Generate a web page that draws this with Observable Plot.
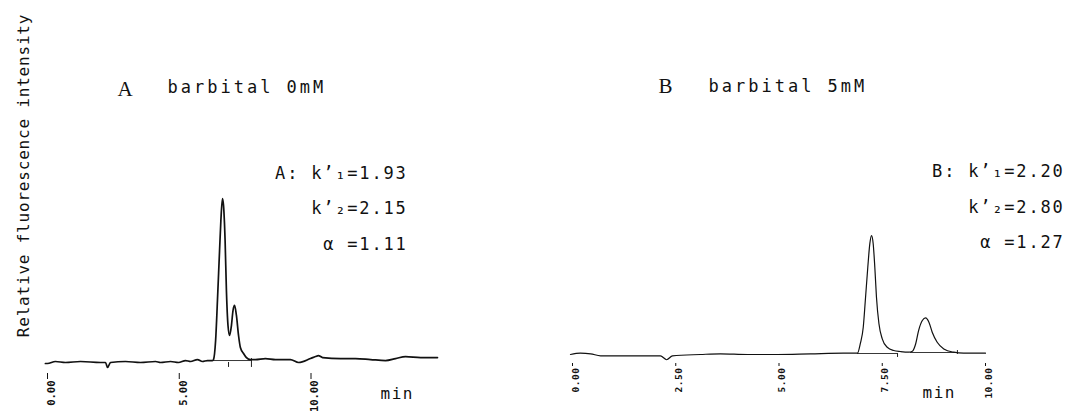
<!DOCTYPE html>
<html>
<head>
<meta charset="utf-8">
<script src="https://cdn.jsdelivr.net/npm/d3@7"></script>
<script src="https://cdn.jsdelivr.net/npm/@observablehq/plot@0.6"></script>
<style>
  html, body { margin: 0; padding: 0; background: #fff; }
  #wrap { position: relative; width: 1067px; height: 411px; overflow: hidden; background: #fff; }
  #wrap svg { position: absolute; top: 0; }
</style>
</head>
<body>
<div id="wrap"></div>
<script>
// ---------- data ----------
// Panel A (barbital 0 mM): time in min, relative fluorescence (apex of first peak = 100)
const timeA = [-0.08, 0, 0.30, 0.68, 1.25, 2.01, 2.20, 2.28, 2.39, 2.96, 3.53, 4.10, 4.29, 4.67, 4.97,
  5.24, 5.43, 5.69, 5.88, 6.07, 6.26, 6.30, 6.38, 6.45, 6.53, 6.58, 6.64, 6.68, 6.74, 6.79, 6.85,
  6.91, 6.98, 7.04, 7.10, 7.17, 7.25, 7.32, 7.44, 7.55, 7.70, 7.89, 8.27, 8.65, 9.22, 9.53, 9.98,
  10.17, 10.28, 10.44, 11.12, 11.69, 12.26, 12.83, 13.21, 13.59, 14.16, 14.80];
const signalA = [0, 0, 1.2, 0.6, 1.2, 0.6, 0.6, -2.4, 0.6, 1.2, 0.6, 1.2, 0.6, 1.2, 0.6,
  1.8, 1.2, 2.4, 1.2, 1.8, 1.8, 2.4, 13.9, 38.2, 68.5, 86.7, 100, 95.8, 74.5, 44.2, 23.0,
  17.0, 23.0, 32.1, 35.2, 29.1, 17.0, 9.7, 6.1, 3.6, 2.4, 2.4, 3.0, 2.4, 2.4, 0.6, 3.0,
  4.2, 4.8, 3.6, 3.0, 3.0, 2.4, 1.8, 3.0, 4.2, 3.6, 3.6];
// Panel B (barbital 5 mM)
const timeB = [-0.05, 0.19, 0.44, 0.68, 1.33, 2.13, 2.28, 2.42, 3.10, 3.58, 4.24, 4.96, 5.76, 6.56,
  6.90, 6.97, 7.04, 7.09, 7.15, 7.20, 7.24, 7.28, 7.32, 7.36, 7.42, 7.50, 7.62, 7.78, 7.94, 8.14,
  8.23, 8.31, 8.38, 8.47, 8.55, 8.63, 8.71, 8.83, 8.99, 9.23, 9.47, 10.00];
const signalB = [-0.6, 0.2, -0.2, -1.4, -1.4, -1.4, -3.8, -1.4, -0.6, -0.2, -0.6, -0.6, -0.2, 0.2,
  0.2, 6.1, 15.9, 32.1, 52.3, 66.7, 71.5, 66.7, 52.3, 34.1, 18.0, 8.9, 3.8, 1.8, 1.2, 0.8,
  1.4, 5.9, 13.9, 20.0, 21.6, 19.0, 12.9, 6.8, 2.8, 0.8, 0.2, 0.2];

// integrator baselines and peak-end marks
const integStartA = [6.30], integEndA = [7.74], integLevelA = [1.8];
const markTimeA = [6.87, 7.74], markTopA = [0.6, 3.0], markBottomA = [-2.4, -2.4];
const integStartB = [6.90, 8.18], integEndB = [7.87, 9.32], integLevelB = [0, 0.6];
const markTimeB = [7.87, 9.32], markTopB = [0, 1.8], markBottomB = [-2.4, -0.6];

// ticks and texts
const ticksA = [0, 5, 10];
const ticksB = [0, 2.5, 5, 7.5, 10];
const panelLetters = ["A", "B"];
const panelTitles = ["barbital 0mM", "barbital 5mM"];
const statsA = ["A: k\u2019\u2081=1.93", "k\u2019\u2082=2.15", "\u03b1 =1.11"];
const statsB = ["B: k\u2019\u2081=2.20", "k\u2019\u2082=2.80", "\u03b1 =1.27"];
const unitLabel = "min";
const yLabel = "Relative fluorescence intensity";

// ---------- build ----------
const mono = "'DejaVu Sans Mono', monospace";
const serif = "'Liberation Serif', 'DejaVu Serif', serif";
const fmt = d3.format(".2f");

function panel(cfg) {
  const trace = cfg.time.map((t, i) => ({t, v: cfg.signal[i]}));
  const integ = cfg.integStart.map((s, i) => ({x1: s, x2: cfg.integEnd[i], y: cfg.integLevel[i]}));
  const marks = cfg.markTime.map((t, i) => ({x: t, y1: cfg.markTop[i], y2: cfg.markBottom[i]}));
  const textMarks = [
    Plot.text([cfg.letter], {text: d => d, frameAnchor: "top-left", dx: cfg.letterX, dy: cfg.letterY,
      textAnchor: "start", fontFamily: serif, fontSize: 21, fill: "#111"}),
    Plot.text([cfg.title], {text: d => d, frameAnchor: "top-left", dx: cfg.titleX, dy: cfg.titleY,
      textAnchor: "start", fontFamily: mono, fontSize: 17, fill: "#111"}),
    Plot.text([cfg.stats.join("\n")], {text: d => d, frameAnchor: "top-left", dx: cfg.statsX, dy: cfg.statsY,
      textAnchor: "end", lineAnchor: "middle", lineHeight: 35.5 / 17, fontFamily: mono, fontSize: 17, fill: "#111"}),
    Plot.text([unitLabel], {text: d => d, frameAnchor: "top-left", dx: cfg.unitX, dy: cfg.unitY,
      textAnchor: "start", fontFamily: mono, fontSize: 16, fill: "#111"})
  ];
  const spacing = [0, 3, 1.8, 1.5];
  if (cfg.yLabel) {
    textMarks.push(Plot.text([cfg.yLabel], {text: d => d, frameAnchor: "top-left", dx: 17, dy: 175,
      rotate: -90, textAnchor: "middle", fontFamily: mono, fontSize: 16, fill: "#111"}));
    spacing.push(0.8);
  }
  const svg = Plot.plot({
    width: cfg.width,
    height: 411,
    marginLeft: 0, marginRight: 0, marginTop: 0,
    marginBottom: cfg.marginBottom,
    style: {fontFamily: mono, background: "transparent", overflow: "visible", color: "#111"},
    x: {domain: [0, 10], range: cfg.xRange},
    y: {domain: [0, 100], range: cfg.yRange, axis: null},
    marks: [
      Plot.ruleY(integ, {x1: "x1", x2: "x2", y: "y", stroke: "#222", strokeWidth: 0.9}),
      Plot.ruleX(marks, {x: "x", y1: "y1", y2: "y2", stroke: "#222", strokeWidth: 1}),
      Plot.line(trace, {x: "t", y: "v", stroke: "#111", strokeWidth: cfg.strokeWidth, curve: "monotone-x"}),
      Plot.axisX({ticks: cfg.ticks, tickSize: cfg.tickSize, tickFormat: () => "", label: null, stroke: "#111"}),
      Plot.axisX({ticks: cfg.ticks, tickSize: 0, tickPadding: cfg.tickSize + cfg.tickPad, tickFormat: fmt,
        tickRotate: -90, dx: cfg.labelDx, label: null, fontSize: cfg.tickFont, fontWeight: "bold", fill: "#111"}),
      ...textMarks
    ]
  });
  svg.style.left = cfg.left + "px";
  svg.querySelectorAll('g[aria-label="text"]').forEach((g, i) => {
    if (spacing[i]) g.setAttribute("letter-spacing", spacing[i]);
  });
  svg.querySelectorAll('g[aria-label="x-axis tick label"]').forEach(g => {
    g.setAttribute("font-size", cfg.tickFont);
    g.setAttribute("font-weight", "bold");
    g.setAttribute("letter-spacing", cfg.tickSpacing);
    g.setAttribute("font-family", mono);
  });
  return svg;
}

const wrap = document.getElementById("wrap");
wrap.appendChild(panel({
  left: 0, width: 540,
  time: timeA, signal: signalA,
  integStart: integStartA, integEnd: integEndA, integLevel: integLevelA,
  markTime: markTimeA, markTop: markTopA, markBottom: markBottomA,
  ticks: ticksA, xRange: [47, 310.5], yRange: [363, 198],
  marginBottom: 38, tickSize: 6, tickPad: 1, tickFont: 10.5, tickSpacing: 0, labelDx: 4,
  strokeWidth: 1.7,
  letter: panelLetters[0], letterX: 117, letterY: 81,
  title: panelTitles[0], titleX: 167, titleY: 80,
  stats: statsA, statsX: 407, statsY: 202.5,
  unitX: 380, unitY: 387,
  yLabel: yLabel
}));
wrap.appendChild(panel({
  left: 540, width: 527,
  time: timeB, signal: signalB,
  integStart: integStartB, integEnd: integEndB, integLevel: integLevelB,
  markTime: markTimeB, markTop: markTopB, markBottom: markBottomB,
  ticks: ticksB, xRange: [32, 445], yRange: [353, 188],
  marginBottom: 48, tickSize: 3, tickPad: 1, tickFont: 9.5, tickSpacing: 0.5, labelDx: 3,
  strokeWidth: 1.2,
  letter: panelLetters[1], letterX: 118, letterY: 78,
  title: panelTitles[1], titleX: 168, titleY: 79,
  stats: statsB, statsX: 524, statsY: 201,
  unitX: 382, unitY: 386
}));
</script>
</body>
</html>
